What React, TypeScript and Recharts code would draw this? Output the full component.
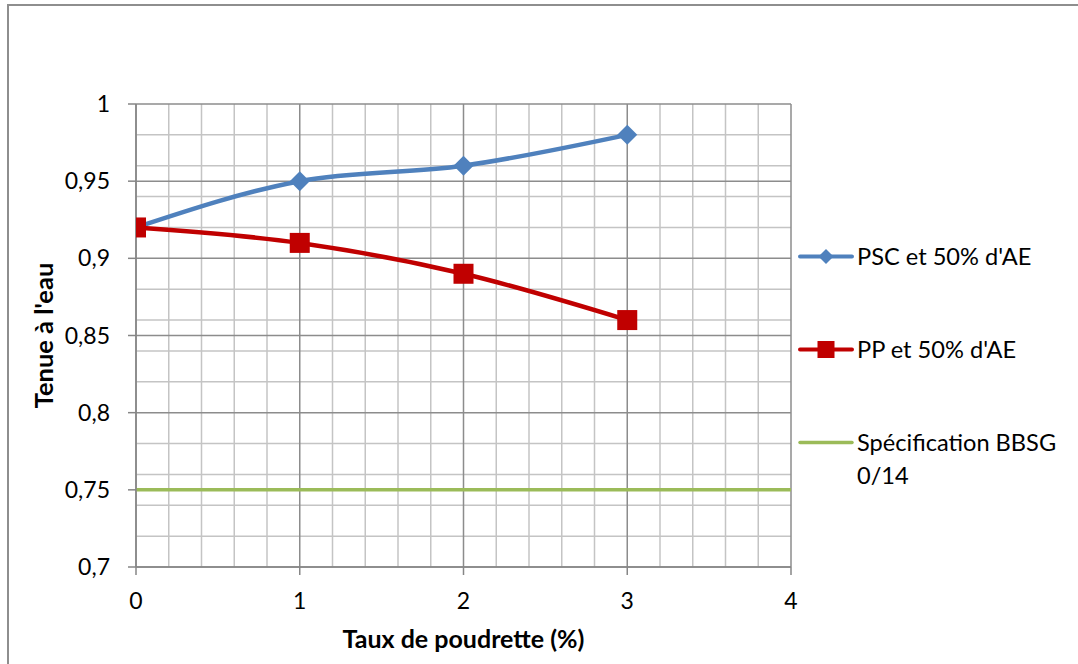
import React from 'react';
import { LineChart, Line, XAxis, YAxis, CartesianGrid, Legend, Label } from 'recharts';

// Taux de poudrette (%) on x, tenue à l'eau on y
const tauxPoudrette = [0, 1, 2, 3];
const pscValues = [0.92, 0.95, 0.96, 0.98];
const ppValues = [0.92, 0.91, 0.89, 0.86];
const specX = [0, 4];
const specValues = [0.75, 0.75];

const xTicks = [0, 1, 2, 3, 4];
const yTicks = [0.7, 0.75, 0.8, 0.85, 0.9, 0.95, 1];
const xMinorGrid = [0.2, 0.4, 0.6, 0.8, 1.2, 1.4, 1.6, 1.8, 2.2, 2.4, 2.6, 2.8, 3.2, 3.4, 3.6, 3.8];
const yMinorGrid = [0.72, 0.74, 0.76, 0.78, 0.82, 0.84, 0.86, 0.88, 0.92, 0.94, 0.96, 0.98];

const seriesNames = ["PSC et 50% d'AE", "PP et 50% d'AE", 'Spécification BBSG 0/14'];

const BLUE = '#4F81BD';
const RED = '#C00000';
const GREEN = '#9BBB59';
const FONT = 'Lato, "Open Sans", sans-serif';

const pscData = tauxPoudrette.map((x, i) => ({ x, y: pscValues[i] }));
const ppData = tauxPoudrette.map((x, i) => ({ x, y: ppValues[i] }));
const specData = specX.map((x, i) => ({ x, y: specValues[i] }));

const DiamondDot = (props: any) => {
  const { cx, cy, index } = props;
  if (cx == null || cy == null) return <g key={`d-${index}`} />;
  const r = 10;
  return (
    <path
      key={`d-${index}`}
      d={`M${cx},${cy - r}L${cx + r},${cy}L${cx},${cy + r}L${cx - r},${cy}Z`}
      fill={BLUE}
    />
  );
};

const SquareDot = (props: any) => {
  const { cx, cy, index } = props;
  if (cx == null || cy == null) return <g key={`s-${index}`} />;
  const h = 10;
  return <rect key={`s-${index}`} x={cx - h} y={cy - h} width={h * 2} height={h * 2} fill={RED} />;
};

const LegendIcon = ({ color, marker }: { color: string; marker?: 'diamond' | 'square' }) => (
  <svg width={56} height={33} style={{ flex: 'none' }}>
    <line x1={2} y1={16.5} x2={54} y2={16.5} stroke={color} strokeWidth={marker ? 4 : 3.5} strokeLinecap="round" />
    {marker === 'diamond' && <path d="M28,9L35.5,16.5L28,24L20.5,16.5Z" fill={color} />}
    {marker === 'square' && <rect x={19.5} y={8} width={17} height={17} fill={color} />}
  </svg>
);

const CustomLegend = () => {
  const items = [
    { name: seriesNames[0], color: BLUE, marker: 'diamond' as const },
    { name: seriesNames[1], color: RED, marker: 'square' as const },
    { name: seriesNames[2], color: GREEN },
  ];
  return (
    <div style={{ fontFamily: FONT, fontSize: 23.6, lineHeight: '33px', color: '#000' }}>
      {items.map((it, i) => (
        <div key={i} style={{ display: 'flex', alignItems: 'flex-start', marginBottom: 60 }}>
          <LegendIcon color={it.color} marker={it.marker} />
          <div style={{ width: 212, marginLeft: 3 }}>{it.name}</div>
        </div>
      ))}
    </div>
  );
};

const fmt = (v: number) => String(v).replace('.', ',');

export default function App() {
  return (
    <div
      style={{
        position: 'absolute',
        left: 0,
        top: 0,
        width: 1078,
        height: 664,
        overflow: 'hidden',
        background: '#fff',
      }}
    >
      <div
        style={{
          position: 'absolute',
          left: 7,
          top: 4,
          width: 1200,
          height: 800,
          border: '2px solid #8e8e8e',
        }}
      />
      <div style={{ position: 'absolute', left: 0, top: 0 }}>
        <LineChart width={1078} height={664} margin={{ top: 104, right: 287, left: 0, bottom: 0 }}>
          <CartesianGrid
            stroke="#c4c4c4"
            strokeWidth={1.5}
            horizontalValues={yMinorGrid}
            verticalValues={xMinorGrid}
          />
          <CartesianGrid
            stroke="#8c8c8c"
            strokeWidth={1.5}
            horizontalValues={yTicks}
            verticalValues={xTicks}
          />
          <XAxis
            type="number"
            dataKey="x"
            domain={[0, 4]}
            ticks={xTicks}
            allowDataOverflow
            height={97}
            stroke="#868686"
            strokeWidth={1.5}
            tickSize={8}
            tickMargin={18}
            tick={{ fill: '#000', fontSize: 23, fontFamily: FONT }}
          >
            <Label
              value="Taux de poudrette (%)"
              position="insideBottom"
              offset={16}
              style={{ fill: '#000', fontSize: 25, fontWeight: 700, fontFamily: FONT }}
            />
          </XAxis>
          <YAxis
            type="number"
            domain={[0.7, 1]}
            ticks={yTicks}
            allowDataOverflow
            width={136}
            stroke="#868686"
            strokeWidth={1.5}
            tickSize={8}
            tickMargin={18}
            tickFormatter={fmt}
            tick={{ fill: '#000', fontSize: 23, fontFamily: FONT }}
          >
            <Label
              content={({ viewBox }: any) => {
                const cx = viewBox.x + 43;
                const cy = viewBox.y + viewBox.height / 2;
                return (
                  <text
                    x={cx}
                    y={cy}
                    transform={`rotate(-90 ${cx} ${cy})`}
                    textAnchor="middle"
                    dominantBaseline="central"
                    style={{ fill: '#000', fontSize: 25.5, fontWeight: 700, fontFamily: FONT }}
                  >
                    Tenue à l'eau
                  </text>
                );
              }}
            />
          </YAxis>
          <Line
            data={pscData}
            dataKey="y"
            name={seriesNames[0]}
            type="monotone"
            stroke={BLUE}
            strokeWidth={4.5}
            dot={DiamondDot}
            activeDot={false}
            isAnimationActive={false}
          />
          <Line
            data={specData}
            dataKey="y"
            name={seriesNames[2]}
            type="linear"
            stroke={GREEN}
            strokeWidth={3.5}
            dot={false}
            activeDot={false}
            isAnimationActive={false}
          />
          <Line
            data={ppData}
            dataKey="y"
            name={seriesNames[1]}
            type="monotone"
            stroke={RED}
            strokeWidth={4.5}
            dot={SquareDot}
            activeDot={false}
            isAnimationActive={false}
          />
          <Legend
            layout="vertical"
            align="center"
            verticalAlign="middle"
            content={() => <CustomLegend />}
            wrapperStyle={{ position: 'absolute', left: 798, top: 240, width: 280 }}
          />
        </LineChart>
      </div>
    </div>
  );
}
